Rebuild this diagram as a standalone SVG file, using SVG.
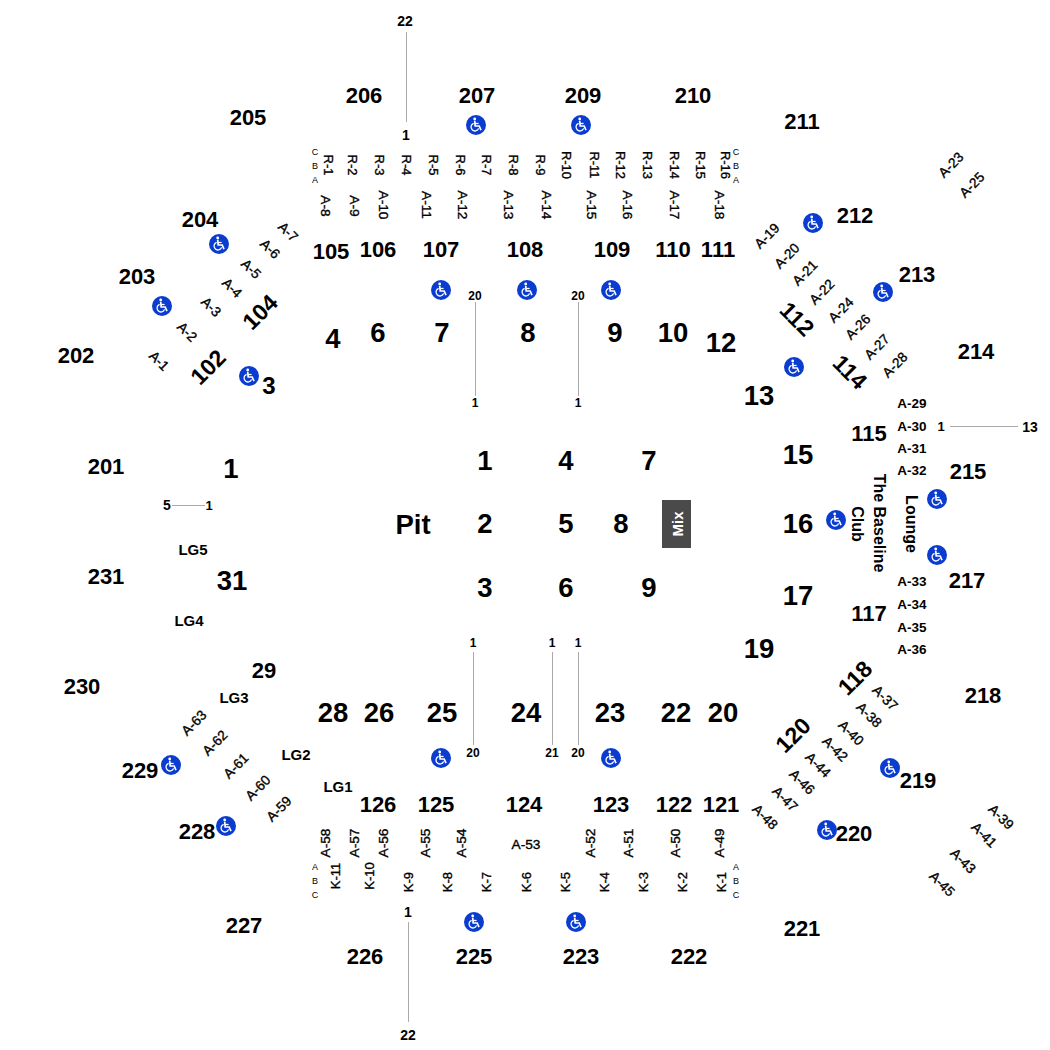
<svg xmlns="http://www.w3.org/2000/svg" width="1050" height="1050" viewBox="0 0 1050 1050">
<style>
text{font-family:"Liberation Sans",Arial,sans-serif;font-weight:700;fill:#000;text-anchor:middle;dominant-baseline:central}
.s{font-size:22px}.b{font-size:27.5px}.d{font-size:23px}.m{font-size:13.5px}.h{font-size:13.7px;font-weight:400;stroke:#000;stroke-width:.35px}.r{font-size:13px;font-weight:400;stroke:#000;stroke-width:.35px}.t{font-size:9px;font-weight:400;fill:#000}.n{font-size:12px}.x{font-size:14px}.g{font-size:15px}.u{font-size:16px}.l{stroke:#aaa;stroke-width:1;fill:none}
</style>
<defs>
<symbol id="wc" viewBox="-10 -10 20 20" overflow="visible">
<circle r="10" fill="#0a3ccf"/>
<circle cx="-1.3" cy="-6" r="1.4" fill="#fff"/>
<path d="M-1.3 -4.2L-0.8 1H3.2L5 5.2" fill="none" stroke="#fff" stroke-width="1.7"/>
<path d="M-1 -1.5H2.6" fill="none" stroke="#fff" stroke-width="1.3"/>
<path d="M-2.4 -1.6A3.9 3.9 0 1 0 2.6 3.4" fill="none" stroke="#fff" stroke-width="1.3"/>
</symbol>
</defs>
<g id="connectors">
<path class="l" d="M406.500 32V122M475.500 302V396M578.500 302V396M473.500 652V745M552.500 652V745M578.500 652V745M408.500 922V1022M172 505.500H205M950 426.500H1018"/>
</g>
<g id="sections-upper">
<text class="s" x="248" y="117">205</text><text class="s" x="364" y="95">206</text><text class="s" x="477" y="95">207</text><text class="s" x="583" y="95">209</text><text class="s" x="693" y="95">210</text><text class="s" x="802" y="121">211</text><text class="s" x="855" y="215">212</text><text class="s" x="917" y="274">213</text><text class="s" x="976" y="351">214</text><text class="s" x="968" y="471">215</text><text class="s" x="967" y="580">217</text><text class="s" x="983" y="695">218</text><text class="s" x="918" y="780">219</text><text class="s" x="854" y="833">220</text><text class="s" x="802" y="928">221</text><text class="s" x="689" y="956">222</text><text class="s" x="581" y="956">223</text><text class="s" x="474" y="956">225</text><text class="s" x="365" y="956">226</text><text class="s" x="244" y="925">227</text><text class="s" x="197" y="831">228</text><text class="s" x="140" y="770">229</text><text class="s" x="82" y="686">230</text><text class="s" x="106" y="576">231</text><text class="s" x="106" y="466">201</text><text class="s" x="76" y="355">202</text><text class="s" x="137" y="276">203</text><text class="s" x="200" y="219">204</text>
</g>
<g id="sections-lower">
<text class="s" x="331" y="251">105</text><text class="s" x="378" y="249">106</text><text class="s" x="441" y="249">107</text><text class="s" x="525" y="249">108</text><text class="s" x="612" y="249">109</text><text class="s" x="673" y="249">110</text><text class="s" x="718" y="249">111</text><text class="s" x="869" y="433">115</text><text class="s" x="869" y="613">117</text>
<text class="s" x="378" y="804">126</text><text class="s" x="436" y="804">125</text><text class="s" x="524" y="804">124</text><text class="s" x="611" y="804">123</text><text class="s" x="674" y="804">122</text><text class="s" x="721" y="804">121</text>
<text class="d" x="260" y="312" transform="rotate(-45 260 312)">104</text><text class="d" x="208" y="367" transform="rotate(-45 208 367)">102</text><text class="d" x="797" y="319" transform="rotate(45 797 319)">112</text><text class="d" x="850" y="372" transform="rotate(45 850 372)">114</text><text class="d" x="855" y="678" transform="rotate(-45 855 678)">118</text><text class="d" x="793" y="735" transform="rotate(-45 793 735)">120</text>
</g>
<g id="blocks">
<text class="b" x="333" y="338">4</text><text class="b" x="378" y="332">6</text><text class="b" x="442" y="332">7</text><text class="b" x="528" y="332">8</text><text class="b" x="615" y="332">9</text><text class="b" x="673" y="332">10</text><text class="b" x="721" y="342">12</text><text class="b" x="759" y="395">13</text><text class="b" x="798" y="454">15</text><text class="b" x="798" y="523">16</text><text class="b" x="798" y="595">17</text><text class="b" x="759" y="648">19</text><text class="b" x="723" y="712">20</text><text class="b" x="676" y="712">22</text><text class="b" x="610" y="712">23</text><text class="b" x="526" y="712">24</text><text class="b" x="442" y="712">25</text><text class="b" x="379" y="712">26</text><text class="b" x="333" y="712">28</text><text class="s" x="264" y="670">29</text><text class="b" x="232" y="580">31</text><text class="b" x="231" y="468">1</text><text class="s" style="font-size:24px" x="269" y="385">3</text>
<text class="b" x="413" y="524">Pit</text>
<text class="b" x="485" y="460">1</text><text class="b" x="566" y="460">4</text><text class="b" x="649" y="460">7</text><text class="b" x="485" y="523">2</text><text class="b" x="566" y="523">5</text><text class="b" x="621" y="523">8</text><text class="b" x="485" y="587">3</text><text class="b" x="566" y="587">6</text><text class="b" x="649" y="587">9</text>
</g>
<g id="mix"><rect x="662" y="500" width="29" height="48" fill="#4a4a4a"/><text x="677" y="524" transform="rotate(-90 677 524)" style="font-size:15px;fill:#fff">Mix</text></g>
<g id="upper-rows">
<text class="r" x="328" y="165" transform="rotate(90 328 165)">R-1</text><text class="r" x="352" y="165" transform="rotate(90 352 165)">R-2</text><text class="r" x="379" y="165" transform="rotate(90 379 165)">R-3</text><text class="r" x="406" y="165" transform="rotate(90 406 165)">R-4</text><text class="r" x="433" y="165" transform="rotate(90 433 165)">R-5</text><text class="r" x="460" y="165" transform="rotate(90 460 165)">R-6</text><text class="r" x="486" y="165" transform="rotate(90 486 165)">R-7</text><text class="r" x="513" y="165" transform="rotate(90 513 165)">R-8</text><text class="r" x="540" y="165" transform="rotate(90 540 165)">R-9</text><text class="r" x="566" y="165" transform="rotate(90 566 165)">R-10</text><text class="r" x="594" y="165" transform="rotate(90 594 165)">R-11</text><text class="r" x="620" y="165" transform="rotate(90 620 165)">R-12</text><text class="r" x="647" y="165" transform="rotate(90 647 165)">R-13</text><text class="r" x="674" y="165" transform="rotate(90 674 165)">R-14</text><text class="r" x="700" y="165" transform="rotate(90 700 165)">R-15</text><text class="r" x="725" y="165" transform="rotate(90 725 165)">R-16</text>
<text class="t" x="315" y="152">C</text><text class="t" x="315" y="166">B</text><text class="t" x="315" y="180">A</text><text class="t" x="736" y="152">C</text><text class="t" x="736" y="166">B</text><text class="t" x="736" y="180">A</text>
<text class="h" x="325" y="206" transform="rotate(90 325 206)">A-8</text><text class="h" x="354" y="206" transform="rotate(90 354 206)">A-9</text><text class="h" x="383" y="205" transform="rotate(90 383 205)">A-10</text><text class="h" x="426" y="205" transform="rotate(90 426 205)">A-11</text><text class="h" x="462" y="205" transform="rotate(90 462 205)">A-12</text><text class="h" x="508" y="205" transform="rotate(90 508 205)">A-13</text><text class="h" x="546" y="205" transform="rotate(90 546 205)">A-14</text><text class="h" x="591" y="205" transform="rotate(90 591 205)">A-15</text><text class="h" x="627" y="205" transform="rotate(90 627 205)">A-16</text><text class="h" x="674" y="205" transform="rotate(90 674 205)">A-17</text><text class="h" x="719" y="205" transform="rotate(90 719 205)">A-18</text>
</g>
<g id="lower-rows">
<text class="r" x="335" y="876" transform="rotate(-90 335 876)">K-11</text><text class="r" x="369" y="876" transform="rotate(-90 369 876)">K-10</text><text class="r" x="408" y="882" transform="rotate(-90 408 882)">K-9</text><text class="r" x="447" y="882" transform="rotate(-90 447 882)">K-8</text><text class="r" x="486" y="882" transform="rotate(-90 486 882)">K-7</text><text class="r" x="526" y="882" transform="rotate(-90 526 882)">K-6</text><text class="r" x="565" y="882" transform="rotate(-90 565 882)">K-5</text><text class="r" x="604" y="882" transform="rotate(-90 604 882)">K-4</text><text class="r" x="643" y="882" transform="rotate(-90 643 882)">K-3</text><text class="r" x="682" y="882" transform="rotate(-90 682 882)">K-2</text><text class="r" x="721" y="882" transform="rotate(-90 721 882)">K-1</text>
<text class="t" x="315" y="867">A</text><text class="t" x="315" y="881">B</text><text class="t" x="315" y="895">C</text><text class="t" x="736" y="867">A</text><text class="t" x="736" y="881">B</text><text class="t" x="736" y="895">C</text>
<text class="h" x="325" y="843" transform="rotate(-90 325 843)">A-58</text><text class="h" x="354" y="843" transform="rotate(-90 354 843)">A-57</text><text class="h" x="383" y="843" transform="rotate(-90 383 843)">A-56</text><text class="h" x="425" y="843" transform="rotate(-90 425 843)">A-55</text><text class="h" x="461" y="843" transform="rotate(-90 461 843)">A-54</text><text class="h" x="526" y="844">A-53</text><text class="h" x="590" y="843" transform="rotate(-90 590 843)">A-52</text><text class="h" x="628" y="843" transform="rotate(-90 628 843)">A-51</text><text class="h" x="675" y="843" transform="rotate(-90 675 843)">A-50</text><text class="h" x="719" y="843" transform="rotate(-90 719 843)">A-49</text>
</g>
<g id="side-rows">
<text class="h" x="159" y="361" transform="rotate(45 159 361)">A-1</text><text class="h" x="187" y="332" transform="rotate(45 187 332)">A-2</text><text class="h" x="211" y="307" transform="rotate(45 211 307)">A-3</text><text class="h" x="232" y="288" transform="rotate(45 232 288)">A-4</text><text class="h" x="251" y="269" transform="rotate(45 251 269)">A-5</text><text class="h" x="270" y="249" transform="rotate(45 270 249)">A-6</text><text class="h" x="288" y="232" transform="rotate(45 288 232)">A-7</text>
<text class="h" x="767" y="236" transform="rotate(-45 767 236)">A-19</text><text class="h" x="787" y="256" transform="rotate(-45 787 256)">A-20</text><text class="h" x="805" y="273" transform="rotate(-45 805 273)">A-21</text><text class="h" x="822" y="292" transform="rotate(-45 822 292)">A-22</text><text class="h" x="841" y="310" transform="rotate(-45 841 310)">A-24</text><text class="h" x="858" y="327" transform="rotate(-45 858 327)">A-26</text><text class="h" x="877" y="347" transform="rotate(-45 877 347)">A-27</text><text class="h" x="895" y="365" transform="rotate(-45 895 365)">A-28</text>
<text class="h" x="951" y="165" transform="rotate(-45 951 165)">A-23</text><text class="h" x="972" y="185" transform="rotate(-45 972 185)">A-25</text>
<text class="m" x="912" y="403">A-29</text><text class="m" x="912" y="426">A-30</text><text class="m" x="912" y="448">A-31</text><text class="m" x="912" y="470">A-32</text><text class="m" x="912" y="581">A-33</text><text class="m" x="912" y="604">A-34</text><text class="m" x="912" y="627">A-35</text><text class="m" x="912" y="649">A-36</text>
<text class="h" x="885" y="698" transform="rotate(45 885 698)">A-37</text><text class="h" x="869" y="715" transform="rotate(45 869 715)">A-38</text><text class="h" x="851" y="733" transform="rotate(45 851 733)">A-40</text><text class="h" x="835" y="749" transform="rotate(45 835 749)">A-42</text><text class="h" x="818" y="765" transform="rotate(45 818 765)">A-44</text><text class="h" x="802" y="782" transform="rotate(45 802 782)">A-46</text><text class="h" x="785" y="799" transform="rotate(45 785 799)">A-47</text><text class="h" x="765" y="817" transform="rotate(45 765 817)">A-48</text>
<text class="h" x="1001" y="817" transform="rotate(45 1001 817)">A-39</text><text class="h" x="984" y="835" transform="rotate(45 984 835)">A-41</text><text class="h" x="963" y="861" transform="rotate(45 963 861)">A-43</text><text class="h" x="942" y="884" transform="rotate(45 942 884)">A-45</text>
<text class="h" x="194" y="723" transform="rotate(-45 194 723)">A-63</text><text class="h" x="215" y="743" transform="rotate(-45 215 743)">A-62</text><text class="h" x="236" y="766" transform="rotate(-45 236 766)">A-61</text><text class="h" x="258" y="788" transform="rotate(-45 258 788)">A-60</text><text class="h" x="279" y="809" transform="rotate(-45 279 809)">A-59</text>
<text class="g" x="193" y="549">LG5</text><text class="g" x="189" y="620">LG4</text><text class="g" x="234" y="697">LG3</text><text class="g" x="296" y="754">LG2</text><text class="g" x="338" y="786">LG1</text>
<text class="u" x="879" y="523" transform="rotate(90 879 523)">The Baseline</text><text class="u" x="857" y="524" transform="rotate(90 857 524)">Club</text><text class="u" x="911" y="524" transform="rotate(90 911 524)">Lounge</text>
</g>
<g id="row-numbers">
<text class="x" x="405" y="21">22</text><text class="x" x="406" y="135">1</text><text class="n" x="475" y="296">20</text><text class="n" x="578" y="296">20</text><text class="n" x="475" y="403">1</text><text class="n" x="578" y="403">1</text><text class="n" x="473" y="643">1</text><text class="n" x="552" y="643">1</text><text class="n" x="578" y="643">1</text><text class="n" x="473" y="753">20</text><text class="n" x="552" y="753">21</text><text class="n" x="578" y="753">20</text><text class="x" x="408" y="912">1</text><text class="x" x="408" y="1035">22</text><text class="x" x="167" y="505">5</text><text class="n" x="209" y="505" style="font-size:13px">1</text><text class="n" x="941" y="426" style="font-size:13px">1</text><text class="x" x="1030" y="427">13</text>
</g>
<g id="accessible">
<use href="#wc" x="466" y="115" width="20" height="20"/><use href="#wc" x="571" y="115" width="20" height="20"/><use href="#wc" x="803" y="213" width="20" height="20"/><use href="#wc" x="873" y="282" width="20" height="20"/><use href="#wc" x="784" y="357" width="20" height="20"/><use href="#wc" x="209" y="234" width="20" height="20"/><use href="#wc" x="152" y="296" width="20" height="20"/><use href="#wc" x="239" y="366" width="20" height="20"/><use href="#wc" x="431" y="280" width="20" height="20"/><use href="#wc" x="517" y="280" width="20" height="20"/><use href="#wc" x="601" y="280" width="20" height="20"/><use href="#wc" x="927" y="489" width="20" height="20"/><use href="#wc" x="927" y="545" width="20" height="20"/><use href="#wc" x="826" y="510" width="20" height="20"/><use href="#wc" x="880" y="758" width="20" height="20"/><use href="#wc" x="817" y="820" width="20" height="20"/><use href="#wc" x="431" y="748" width="20" height="20"/><use href="#wc" x="601" y="748" width="20" height="20"/><use href="#wc" x="161" y="755" width="20" height="20"/><use href="#wc" x="216" y="816" width="20" height="20"/><use href="#wc" x="464" y="912" width="20" height="20"/><use href="#wc" x="566" y="912" width="20" height="20"/>
</g>
</svg>
